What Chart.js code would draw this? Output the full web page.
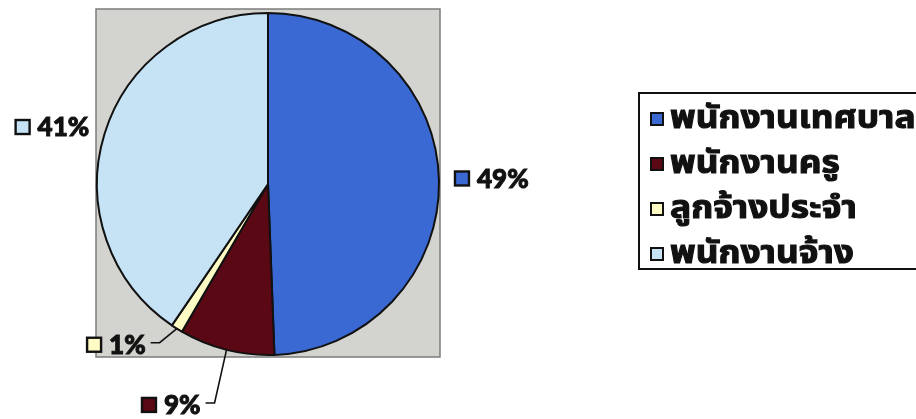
<!DOCTYPE html>
<html>
<head>
<meta charset="utf-8">
<script src="https://cdn.jsdelivr.net/npm/chart.js@4.4.1/dist/chart.umd.min.js"></script>
<style>
  html, body { margin: 0; padding: 0; background: #ffffff; }
  #wrap { position: relative; width: 916px; height: 419px; overflow: hidden; }
  #legend { position: absolute; left: 638px; top: 92px; width: 330px; height: 178px;
    border: 2px solid #111; box-sizing: border-box; padding: 2px 0 0 10px;
    font-family: "Noto Sans Thai", "Noto Sans", Tahoma, sans-serif; font-weight: bold; font-size: 31.5px; color: #111;
    -webkit-text-stroke: 1.1px #111; }
  .item { display: flex; align-items: center; height: 45px; white-space: nowrap; }
  .sw { width: 10px; height: 10px; border: 2px solid #111; margin-right: 6px; flex: none; }
  .tx { display: inline-block; transform: scaleX(1.12); transform-origin: left center; }
</style>
</head>
<body>
<div id="wrap">
  <canvas id="c" width="916" height="419"></canvas>
  <div id="legend"></div>
</div>
<script>
const categories = ["พนักงานเทศบาล", "พนักงานครู", "ลูกจ้างประจำ", "พนักงานจ้าง"];
const values = [49.4, 9.0, 1.1, 40.5];
const sliceColors = ["#3a69d4", "#5a0814", "#fffbc4", "#c6e3f6"];

// label placement overrides (relative to pie center, in radius units); null = outside end
const labelOffsets = [null, { dx: -0.737, dy: 1.292 }, { dx: -1.058, dy: 0.94 }, null];

const legendEl = document.getElementById('legend');
categories.forEach((name, i) => {
  const row = document.createElement('div');
  row.className = 'item';
  const sw = document.createElement('span');
  sw.className = 'sw';
  sw.style.background = sliceColors[i];
  const tx = document.createElement('span');
  tx.className = 'tx';
  tx.textContent = name;
  row.appendChild(sw);
  row.appendChild(tx);
  legendEl.appendChild(row);
});

const plotAreaPlugin = {
  id: 'plotArea',
  beforeDatasetsDraw(chart) {
    const arc = chart.getDatasetMeta(0).data[0];
    if (!arc) return;
    const { x, y, outerRadius: r } = arc.getProps(['x', 'y', 'outerRadius'], true);
    const ctx = chart.ctx;
    ctx.save();
    ctx.fillStyle = '#d3d3cf';
    ctx.strokeStyle = '#7c7c7c';
    ctx.lineWidth = 1.5;
    ctx.fillRect(x - r - 1, y - r - 4, 2 * r + 2, 2 * r + 6);
    ctx.strokeRect(x - r - 1, y - r - 4, 2 * r + 2, 2 * r + 6);
    ctx.restore();
  }
};

const labelPlugin = {
  id: 'sliceLabels',
  afterDatasetsDraw(chart) {
    const meta = chart.getDatasetMeta(0);
    const ctx = chart.ctx;
    const total = values.reduce((a, b) => a + b, 0);
    ctx.save();
    ctx.font = '900 26px Lato, "Open Sans", sans-serif';
    ctx.textBaseline = 'middle';
    meta.data.forEach((arc, i) => {
      const p = arc.getProps(['x', 'y', 'startAngle', 'endAngle', 'outerRadius'], true);
      const mid = (p.startAngle + p.endAngle) / 2;
      const r = p.outerRadius;
      const text = Math.round(values[i] / total * 100) + '%';
      const tw = ctx.measureText(text).width;
      const box = 14, gap = 8;
      const full = box + gap + tw;
      let left, cy;
      const edgeX = p.x + Math.cos(mid) * r;
      const edgeY = p.y + Math.sin(mid) * r;
      const off = labelOffsets[i];
      if (off) {
        left = p.x + off.dx * r;
        cy = p.y + off.dy * r;
        const endX = left + full + 5;
        ctx.strokeStyle = '#111';
        ctx.lineWidth = 1.6;
        ctx.beginPath();
        ctx.moveTo(endX, cy - 2);
        ctx.lineTo(endX + 9, cy - 2);
        ctx.lineTo(edgeX, edgeY);
        ctx.stroke();
      } else {
        const ax = p.x + Math.cos(mid) * (r + 16);
        const ay = p.y + Math.sin(mid) * (r + 16);
        cy = ay - 2;
        left = Math.cos(mid) >= 0 ? ax : ax - full;
      }
      ctx.fillStyle = sliceColors[i];
      ctx.strokeStyle = '#111';
      ctx.lineWidth = 2.4;
      ctx.fillRect(left, cy - box / 2, box, box);
      ctx.strokeRect(left, cy - box / 2, box, box);
      ctx.fillStyle = '#111';
      ctx.textAlign = 'left';
      ctx.lineWidth = 1;
      ctx.fillText(text, left + box + gap, cy + 1);
      ctx.strokeText(text, left + box + gap, cy + 1);
    });
    ctx.restore();
  }
};

new Chart(document.getElementById('c'), {
  type: 'pie',
  data: {
    labels: categories,
    datasets: [{
      data: values,
      backgroundColor: sliceColors,
      borderColor: '#111',
      borderWidth: 2
    }]
  },
  options: {
    responsive: false,
    animation: false,
    layout: { padding: { left: 96, right: 476, top: 11, bottom: 62 } },
    plugins: { legend: { display: false }, tooltip: { enabled: false } }
  },
  plugins: [plotAreaPlugin, labelPlugin]
});
</script>
</body>
</html>
